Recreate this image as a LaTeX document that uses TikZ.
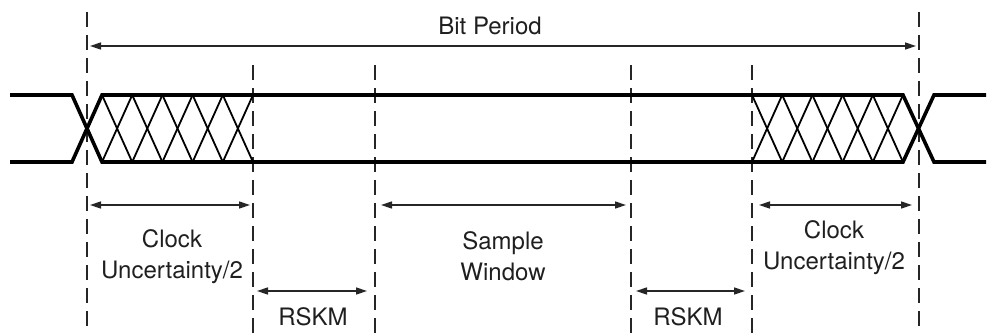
\documentclass[tikz,border=0pt]{standalone}
\usepackage{fontspec}
\setmainfont{TeX Gyre Heros}
\usetikzlibrary{arrows.meta}
\begin{document}
\begin{tikzpicture}[x=1pt,y=-1pt,
  guide/.style={line width=1.4pt,dash pattern=on 15pt off 8pt,black!85},
  signal/.style={line width=3.6pt,line join=miter},
  hatch/.style={line width=1.8pt},
  span/.style={line width=1.5pt,black!85,{Triangle[length=11pt,width=7pt]}-{Triangle[length=11pt,width=7pt]}},
  lbl/.style={font=\fontsize{24}{31}\selectfont,text=black!88,align=center,inner sep=0pt}]
\useasboundingbox (0,0) rectangle (988,333);

% vertical timing guides
\foreach \n/\x/\t in {a/87/12,b/253/65,c/375/65,d/631/65,e/752/65,f/919/12}{
  \coordinate (\n top) at (\x,\t);
  \coordinate (\n bot) at (\x,333);
  \draw[guide] (\n top) -- (\n bot);
}

% data eye: thick rails with crossings at both bit edges
\coordinate (lt0) at (10,95);   \coordinate (lb0) at (10,162);
\coordinate (lt1) at (72,95);   \coordinate (lb1) at (72,162);
\coordinate (lt2) at (102,95);  \coordinate (lb2) at (102,162);
\coordinate (rt1) at (903,95);  \coordinate (rb1) at (903,162);
\coordinate (rt2) at (934,95);  \coordinate (rb2) at (934,162);
\coordinate (rt3) at (986,95);  \coordinate (rb3) at (986,162);
\draw[signal] (lt0) -- (lt1) -- (lb2) -- (rb1) -- (rt2) -- (rt3);
\draw[signal] (lb0) -- (lb1) -- (lt2) -- (rt1) -- (rb2) -- (rb3);

% clock uncertainty cross-hatching
\foreach \s in {102,752}{
  \foreach \i in {0,...,4}{
    \pgfmathsetmacro{\xa}{\s+30.2*\i}
    \pgfmathsetmacro{\xb}{\s+30.2*(\i+1)}
    \draw[hatch] (\xa,95) -- (\xb,162);
    \draw[hatch] (\xa,162) -- (\xb,95);
  }
}

% dimension arrows
\coordinate (bp1) at (90,46);   \coordinate (bp2) at (916,46);
\coordinate (cl1) at (90,205);  \coordinate (cl2) at (250,205);
\coordinate (sw1) at (381,205); \coordinate (sw2) at (626,205);
\coordinate (cr1) at (759,205); \coordinate (cr2) at (912,205);
\coordinate (rl1) at (257,291); \coordinate (rl2) at (367,291);
\coordinate (rr1) at (636,291); \coordinate (rr2) at (745,291);
\draw[span] (bp1) -- (bp2);
\draw[span] (cl1) -- (cl2);
\draw[span] (sw1) -- (sw2);
\draw[span] (cr1) -- (cr2);
\draw[span] (rl1) -- (rl2);
\draw[span] (rr1) -- (rr2);

% labels
\node[lbl] (bit) at (490,26) {Bit Period};
\node[lbl] (clkL) at (172,257) {Clock\\Uncertainty/2};
\node[lbl] (samp) at (503,256) {Sample\\Window};
\node[lbl] (clkR) at (834,248) {Clock\\Uncertainty/2};
\node[lbl] (rskL) at (313,317) {RSKM};
\node[lbl] (rskR) at (688,317) {RSKM};
\end{tikzpicture}
\end{document}
